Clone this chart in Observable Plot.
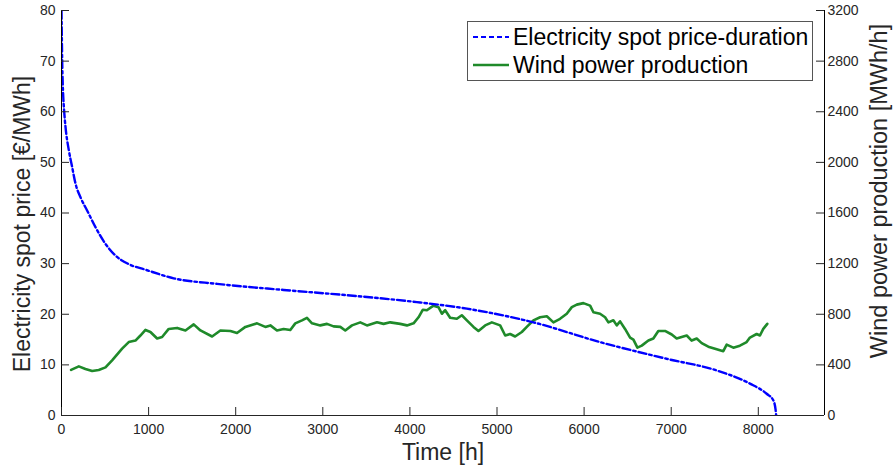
<!DOCTYPE html>
<html><head><meta charset="utf-8">
<script src="https://cdn.jsdelivr.net/npm/d3@7"></script>
<script src="https://cdn.jsdelivr.net/npm/@observablehq/plot@0.6"></script>
<style>
body{margin:0;background:#fff;}
#wrap{position:relative;width:894px;height:470px;font-family:"Liberation Sans",Arial,Helvetica,sans-serif;}
#legend{position:absolute;left:467px;top:21px;width:346px;height:60px;border:1px solid #555;background:#fff;box-sizing:border-box;}
.row{position:absolute;left:0;height:28px;display:flex;align-items:center;font-size:23px;color:#000;white-space:nowrap;}
.row svg{margin-left:5px;margin-right:4px;}
</style></head>
<body><div id="wrap"></div>
<script>
// Price-duration curve (€/MWh) vs hours
const priceHours = [0, 8, 20, 27, 46, 84, 122, 161, 218, 294, 390, 505, 620, 772, 964, 1288, 1786, 2550, 3315, 4080, 4654, 5418, 6183, 6948, 7522, 7904, 8096, 8172, 8198, 8205];
const priceValues = [80, 70, 63, 61, 57, 52.4, 49.1, 45.8, 43.1, 40.5, 37.2, 33.9, 31.6, 29.9, 28.8, 27.1, 26.0, 24.8, 23.7, 22.4, 21.1, 18.4, 14.5, 11.2, 8.9, 6.3, 4.3, 3.0, 1.2, 0];
// Wind power production (MWh/h) vs hours
const windHours = [110,199,275,352,428,505,581,696,772,849,906,964,1021,1098,1155,1231,1327,1423,1518,1595,1729,1824,1939,2015,2111,2245,2340,2398,2474,2550,2627,2684,2761,2818,2876,2971,3048,3124,3201,3258,3335,3430,3507,3622,3698,3774,3889,3966,4042,4099,4149,4195,4271,4328,4367,4405,4462,4539,4596,4654,4730,4787,4864,4941,5036,5094,5151,5208,5285,5342,5418,5495,5572,5648,5724,5801,5859,5916,5992,6069,6107,6183,6241,6279,6336,6375,6413,6470,6528,6566,6612,6662,6738,6795,6852,6929,7006,7063,7120,7178,7235,7293,7350,7426,7503,7598,7637,7713,7789,7866,7904,7981,8019,8057,8103];
const windValues = [360,388,368,352,360,380,436,528,580,592,632,676,660,608,620,684,692,672,720,672,624,672,668,652,700,728,700,712,672,684,676,728,752,772,728,712,724,704,700,672,712,736,712,736,724,736,724,712,728,776,836,832,868,856,804,832,772,764,792,752,700,668,712,736,712,632,644,624,660,700,752,776,784,736,764,804,856,876,888,868,816,804,776,736,752,712,744,684,616,600,536,552,592,608,668,668,640,608,620,632,592,608,572,544,528,508,560,536,552,580,616,644,632,684,724];

const xTicks = [0,1000,2000,3000,4000,5000,6000,7000,8000];
const yTicks = [0,10,20,30,40,50,60,70,80];
const y2Ticks = [0,400,800,1200,1600,2000,2400,2800,3200];
const seriesNames = ["Electricity spot price-duration", "Wind power production"];
const xLabel = "Time [h]";
const yLabel = "Electricity spot price [€/MWh]";
const y2Label = "Wind power production [MWh/h]";

const ratio = y2Ticks[y2Ticks.length-1] / yTicks[yTicks.length-1];
const priceData = priceHours.map((h,i)=>({h, v: priceValues[i]}));
const windData = windHours.map((h,i)=>({h, v: windValues[i]/ratio}));

const W = 894, H = 470, mL = 61, mR = 70, mT = 10, mB = 55;
const plotW = W - mL - mR, plotH = H - mT - mB;
const axisColor = "#262626";
const blue = "#0000ff", green = "#1f8a2a";
const dash = "8,3,2.5,3";

const chart = Plot.plot({
  width: W, height: H,
  marginLeft: mL, marginRight: mR, marginTop: mT, marginBottom: mB,
  x: {domain: [0, 8760]},
  y: {domain: [0, 80]},
  style: {fontFamily: '"Liberation Sans", Arial, Helvetica, sans-serif', fontSize: "14px", color: axisColor, background: "#fff"},
  marks: [
    Plot.line(windData, {x: "h", y: "v", stroke: green, strokeWidth: 2.6}),
    Plot.line(priceData, {x: "h", y: "v", stroke: blue, strokeWidth: 2.4, strokeDasharray: dash, curve: "monotone-x", clip: true}),
    // axis lines
    Plot.ruleX([0], {stroke: "#000", strokeWidth: 1}),
    Plot.ruleX([8760], {stroke: "#000", strokeWidth: 1}),
    Plot.ruleY([0], {stroke: axisColor, strokeWidth: 1}),
    // inward ticks
    Plot.ruleX(xTicks, {x: d => d, stroke: axisColor, insetTop: plotH - 8}),
    Plot.ruleY(yTicks, {y: d => d, stroke: axisColor, insetRight: plotW - 8}),
    Plot.ruleY(y2Ticks, {y: d => d / ratio, stroke: axisColor, insetLeft: plotW - 8}),
    // tick labels
    Plot.axisX(xTicks, {anchor: "bottom", tickSize: 0, tickPadding: 9, label: null, fontSize: 14, tickFormat: d => String(d)}),
    Plot.axisY(yTicks, {anchor: "left", tickSize: 0, tickPadding: 6, label: null, fontSize: 14, tickFormat: d => String(d)}),
    Plot.axisY(y2Ticks.map(d => d / ratio), {anchor: "right", tickSize: 0, tickPadding: 3, tickFormat: d => String(Math.round(d * ratio)), label: null, fontSize: 14}),
    // axis titles
    Plot.text([xLabel], {frameAnchor: "bottom", dy: 44, fontSize: 23, fill: axisColor, textAnchor: "middle"}),
    Plot.text([yLabel], {frameAnchor: "left", dx: -39, dy: 11, rotate: -90, fontSize: 23, fill: axisColor, textAnchor: "middle"}),
    Plot.text([y2Label], {frameAnchor: "right", dx: 55, dy: -22, rotate: -90, fontSize: 23.5, fill: axisColor, textAnchor: "middle"})
  ]
});
const wrap = document.getElementById("wrap");
wrap.appendChild(chart);

const legend = document.createElement("div");
legend.id = "legend";
const styles = [{stroke: blue, dash: "5,3", w: 2.2}, {stroke: green, dash: null, w: 2.6}];
seriesNames.forEach((name, i) => {
  const row = document.createElement("div");
  row.className = "row";
  row.style.top = (i === 0 ? 1 : 29) + "px";
  const s = styles[i];
  row.innerHTML = `<svg width="36" height="10"><line x1="0" y1="5" x2="36" y2="5" stroke="${s.stroke}" stroke-width="${s.w}" ${s.dash ? `stroke-dasharray="${s.dash}"` : ""}/></svg><span>${name}</span>`;
  legend.appendChild(row);
});
wrap.appendChild(legend);
</script>
</body></html>
